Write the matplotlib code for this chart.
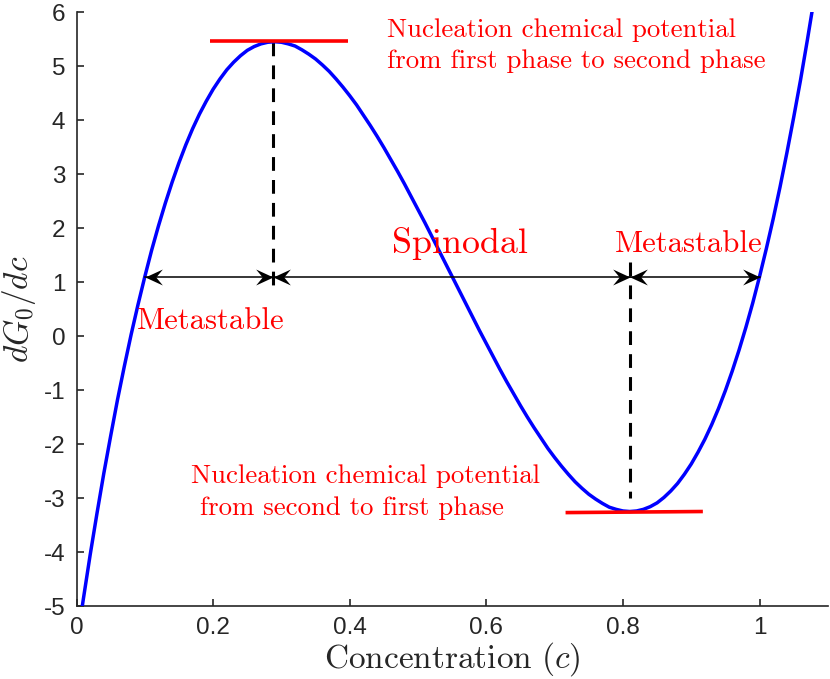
import numpy as np
import matplotlib
matplotlib.use('Agg')
import matplotlib.pyplot as plt
from matplotlib.path import Path

# curve values
conc = [0.005, 0.01, 0.02, 0.03, 0.04, 0.05, 0.06, 0.07, 0.08, 0.09,
        0.10, 0.11, 0.12, 0.13, 0.14, 0.15, 0.16, 0.17, 0.18, 0.19,
        0.20, 0.21, 0.22, 0.23, 0.24, 0.25, 0.26, 0.27, 0.28, 0.29,
        0.30, 0.31, 0.32, 0.33, 0.34, 0.35, 0.36, 0.37, 0.38, 0.39,
        0.40, 0.41, 0.42, 0.43, 0.44, 0.45, 0.46, 0.47, 0.48, 0.49,
        0.50, 0.51, 0.52, 0.53, 0.54, 0.55, 0.56, 0.57, 0.58, 0.59,
        0.60, 0.61, 0.62, 0.63, 0.64, 0.65, 0.66, 0.67, 0.68, 0.69,
        0.70, 0.71, 0.72, 0.73, 0.74, 0.75, 0.76, 0.77, 0.78, 0.79,
        0.80, 0.81, 0.82, 0.83, 0.84, 0.85, 0.86, 0.87, 0.88, 0.89,
        0.90, 0.91, 0.92, 0.93, 0.94, 0.95, 0.96, 0.97, 0.98, 0.99,
        1.00, 1.01, 1.02, 1.03, 1.04, 1.05, 1.06, 1.07, 1.08]
dG0 = [-5.29, -4.87, -4.05, -3.28, -2.54, -1.85, -1.18, -0.56, 0.03, 0.58,
       1.10, 1.59, 2.04, 2.46, 2.85, 3.21, 3.54, 3.84, 4.11, 4.35,
       4.57, 4.76, 4.93, 5.07, 5.19, 5.29, 5.36, 5.41, 5.44, 5.45,
       5.44, 5.41, 5.37, 5.30, 5.22, 5.13, 5.02, 4.90, 4.76, 4.61,
       4.45, 4.28, 4.09, 3.90, 3.70, 3.49, 3.27, 3.05, 2.82, 2.58,
       2.34, 2.10, 1.85, 1.60, 1.35, 1.10, 0.85, 0.60, 0.35, 0.10,
       -0.14, -0.38, -0.62, -0.85, -1.07, -1.29, -1.50, -1.70, -1.89, -2.08,
       -2.25, -2.41, -2.56, -2.70, -2.82, -2.93, -3.02, -3.10, -3.17, -3.21,
       -3.24, -3.25, -3.24, -3.21, -3.16, -3.09, -2.99, -2.87, -2.73, -2.56,
       -2.37, -2.15, -1.91, -1.64, -1.34, -1.01, -0.65, -0.26, 0.16, 0.61,
       1.10, 1.62, 2.17, 2.76, 3.39, 4.05, 4.74, 5.48, 6.25]

# tangent lines at the extrema
top_x = [0.196, 0.398]
top_y = [5.46, 5.46]
bot_x = [0.716, 0.917]
bot_y = [-3.27, -3.25]

c_max = 0.2875
c_min = 0.81
mu_arrow = 1.1
arrow_ends = [0.1, c_max, c_min, 1.0]

xticks = [0, 0.2, 0.4, 0.6, 0.8, 1]
xticklabels = ['0', '0.2', '0.4', '0.6', '0.8', '1']
yticks = list(range(-5, 7))
yticklabels = [str(v) for v in yticks]

plt.rcParams['mathtext.fontset'] = 'cm'
plt.rcParams['axes.unicode_minus'] = False

fig = plt.figure(figsize=(8.3, 6.79), dpi=100)
ax = fig.add_axes([0.0922, 0.1075, 0.9052, 0.8748])

ax.plot(conc, dG0, color=(0, 0, 1), lw=2.5, zorder=3)
ax.plot(top_x, top_y, color=(1, 0, 0), lw=2.6, solid_capstyle='butt', zorder=4)
ax.plot(bot_x, bot_y, color=(1, 0, 0), lw=2.6, solid_capstyle='butt', zorder=4)

# dashed drop lines
ax.plot([c_max, c_max], [5.45, 0.85], color='k', lw=2.2, dashes=(4.5, 3), zorder=2)
ax.plot([c_min, c_min], [1.37, -3.0], color='k', lw=2.2, dashes=(4.5, 3), zorder=2)

# double arrows at mu = 1.1, with notched (matlab vback) heads
head_r = Path([(0, 0), (-1, 0.46), (-0.62, 0), (-1, -0.46), (0, 0)],
              [Path.MOVETO, Path.LINETO, Path.LINETO, Path.LINETO, Path.CLOSEPOLY])
head_l = Path([(0, 0), (1, 0.46), (0.62, 0), (1, -0.46), (0, 0)],
              [Path.MOVETO, Path.LINETO, Path.LINETO, Path.LINETO, Path.CLOSEPOLY])
for x0, x1 in zip(arrow_ends[:-1], arrow_ends[1:]):
    ax.plot([x0, x1], [mu_arrow, mu_arrow], color='k', lw=1.1, zorder=5)
    ax.plot([x1], [mu_arrow], marker=head_r, ms=25, color='k', mew=0, zorder=6)
    ax.plot([x0], [mu_arrow], marker=head_l, ms=25, color='k', mew=0, zorder=6)

red = (1, 0, 0)
ax.text(0.455, 5.537, 'Nucleation chemical potential', family='cmr10',
        fontsize=19.3, color=red, va='baseline', ha='left')
ax.text(0.455, 4.963, 'from first phase to second phase', family='cmr10',
        fontsize=19.3, color=red, va='baseline', ha='left')
ax.text(0.168, -2.72, 'Nucleation chemical potential', family='cmr10',
        fontsize=19.3, color=red, va='baseline', ha='left')
ax.text(0.168, -3.31, ' from second to first phase', family='cmr10',
        fontsize=19.3, color=red, va='baseline', ha='left')
ax.text(0.561, 1.54, 'Spinodal', family='cmr10', fontsize=25.9, color=red,
        va='baseline', ha='center')
ax.text(0.196, 0.13, 'Metastable', family='cmr10', fontsize=22.1, color=red,
        va='baseline', ha='center')
ax.text(0.896, 1.556, 'Metastable', family='cmr10', fontsize=22.1, color=red,
        va='baseline', ha='center')

ax.set_xlim(0, 1.1)
ax.set_ylim(-5, 6)
ax.set_xticks(xticks)
ax.set_xticklabels(xticklabels)
ax.set_yticks(yticks)
ax.set_yticklabels(yticklabels)

gray = '#262626'
for side in ['top', 'right']:
    ax.spines[side].set_visible(False)
for side in ['left', 'bottom']:
    ax.spines[side].set_color(gray)
    ax.spines[side].set_linewidth(1.2)
ax.tick_params(direction='in', length=5, width=1.2, color=gray, labelcolor=gray,
               labelsize=17.5)
ax.tick_params(axis='x', pad=8)
ax.tick_params(axis='y', pad=8)
for lab in ax.get_xticklabels() + ax.get_yticklabels():
    lab.set_family('Liberation Sans')

ax.set_xlabel(r'$\mathrm{Concentration}\ (c)$', fontsize=24, color=gray)
ax.xaxis.set_label_coords(0.5, -0.058)
# y label placed by hand so it sits against the left edge
fig.text(19 / 830, 0.1075 + 0.8748 / 2, r'$dG_0/dc$', fontsize=24, color=gray,
         rotation=90, ha='center', va='center')

fig.savefig('out.png', dpi=100)
